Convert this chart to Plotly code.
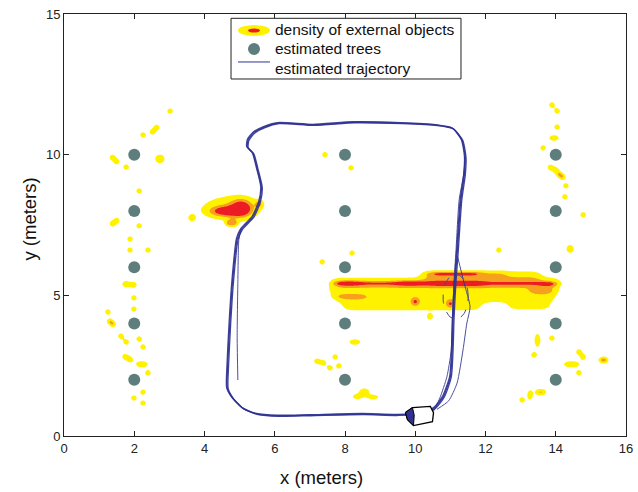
import math
import numpy as np
import plotly.graph_objects as go

# ---------------- data (meters) ----------------
tree_x = [2, 2, 2, 2, 2, 8, 8, 8, 8, 8, 14, 14, 14, 14, 14]
tree_y = [2, 4, 6, 8, 10, 2, 4, 6, 8, 10, 2, 4, 6, 8, 10]

# isolated detections of external objects (small kernel)
spot_x = [3.02, 2.52, 2.64, 2.25, 1.38, 1.50, 1.77, 2.14, 1.38, 1.50, 2.14, 1.88, 1.88, 2.39,
          1.99, 1.99, 1.99, 1.25, 1.30, 1.40, 1.62, 1.77, 2.14, 2.25, 1.74, 1.88, 2.39, 2.25,
          1.99, 2.25,
          7.43, 8.17, 8.20, 7.35, 7.20, 7.38, 7.72, 7.83, 7.57,
          3.64, 4.70, 4.85, 5.55, 12.38, 10.42, 10.00, 11.00,
          13.89, 14.04, 14.04, 13.64, 13.85, 14.00, 14.10, 14.20, 14.29, 14.26, 14.78,
          13.89, 13.38, 14.66, 14.78, 14.66, 15.30, 15.42, 13.50, 13.65, 13.04]
spot_y = [11.55, 10.81, 10.97, 10.70, 9.90, 9.75, 9.56, 8.71, 7.54, 7.66, 7.47, 7.00, 6.61, 6.61,
          5.37, 4.91, 4.51, 4.41, 4.08, 3.97, 3.55, 3.34, 3.45, 3.16, 2.82, 2.72, 2.24, 1.56,
          1.35, 1.17,
          10.00, 9.53, 6.50, 6.19, 2.66, 2.60, 2.81, 2.49, 2.42,
          7.75, 7.57, 7.57, 8.25, 6.61, 4.23, 4.77, 4.70,
          11.77, 11.55, 10.98, 10.24, 9.55, 9.45, 9.30, 9.20, 8.89, 8.50, 7.86,
          3.48, 2.88, 2.99, 2.81, 2.24, 2.70, 2.70, 1.56, 1.56, 1.28]

# compact clusters of detections: centre, spread (x, y) and weight
clu_x = [2.73, 1.77, 2.22, 8.28, 8.35, 8.55, 8.80, 13.95, 14.41, 13.48, 14.45, 13.27,
         4.78, 4.62, 5.05]
clu_y = [9.85, 5.40, 2.55, 3.34, 1.40, 1.58, 1.38, 10.59, 6.65, 3.40, 2.55, 1.46,
         8.10, 7.99, 8.10]
clu_sx = [0.12, 0.10, 0.15, 0.14, 0.12, 0.12, 0.15, 0.12, 0.09, 0.08, 0.20, 0.07,
          0.75, 0.30, 0.20]
clu_sy = [0.14, 0.10, 0.10, 0.09, 0.08, 0.10, 0.08, 0.09, 0.12, 0.22, 0.10, 0.15,
          0.40, 0.12, 0.20]
clu_w = [1.8, 1.8, 1.8, 1.8, 1.7, 1.8, 1.6, 1.8, 1.9, 1.7, 1.8, 1.8,
         1.7, 3.0, 3.2]

# horizontal streaks of detections along the row of foliage:
# x-extent, row, spread and weight
stk_x0 = [10.20, 7.55, 7.50, 7.70, 7.90, 12.60,
          7.70, 7.80, 7.80, 9.50, 10.40, 13.60,
          10.20, 10.50, 7.60, 13.30]
stk_x1 = [13.60, 14.20, 14.10, 14.00, 11.90, 13.90,
          13.95, 13.95, 8.40, 10.20, 11.95, 13.95,
          12.60, 11.80, 8.60, 13.95]
stk_y = [5.72, 5.48, 5.18, 4.88, 4.58, 4.58,
         5.42, 5.42, 5.42, 5.42, 5.42, 5.38,
         5.76, 5.76, 4.95, 5.15]
stk_sy = [0.16, 0.16, 0.16, 0.16, 0.16, 0.13,
          0.12, 0.04, 0.06, 0.06, 0.065, 0.06,
          0.09, 0.045, 0.08, 0.10]
stk_w = [1.25, 1.25, 1.25, 1.25, 1.20, 1.05,
         0.70, 1.10, 1.40, 1.40, 1.50, 1.30,
         0.60, 1.60, 0.70, 0.70]

# estimated trajectory: one lap, clockwise from the upper-left bend
loop_x = [5.05, 5.38, 5.57, 5.62, 5.50, 5.38, 5.22, 5.24, 5.40, 5.70, 6.10, 7.10, 8.25, 9.60,
          10.60, 11.07, 11.33, 11.42, 11.40, 11.30, 11.20, 11.13, 11.08, 11.05, 11.00, 10.80,
          10.55, 10.20, 9.50, 8.50, 7.00, 6.10, 5.50, 5.10, 4.80, 4.65, 4.66, 4.72, 4.80,
          4.93, 5.05]
loop_y = [7.35, 7.80, 8.35, 8.85, 9.50, 10.05, 10.27, 10.52, 10.78, 10.98, 11.12, 11.06, 11.15,
          11.12, 11.05, 10.93, 10.52, 9.92, 9.30, 8.40, 6.60, 5.40, 4.20, 3.00, 2.10, 1.40,
          1.00, 0.82, 0.75, 0.78, 0.74, 0.72, 0.78, 0.98, 1.35, 1.70, 2.50, 4.00, 5.50,
          7.00, 7.35]
lap_dx = [0.00, 0.025, -0.02]
lap_dy = [0.00, -0.02, 0.02]

start_x = [4.95, 4.93, 4.95, 4.98, 5.05]
start_y = [1.99, 3.50, 5.50, 7.00, 7.35]

final_x = [11.42, 11.38, 11.25, 11.16, 11.10, 11.06, 11.02, 10.90, 10.70, 10.52]
final_y = [9.92, 9.30, 8.40, 6.60, 5.40, 4.20, 3.00, 2.10, 1.35, 0.88]

detour_x = [11.20, 11.39, 11.56, 11.47, 11.36, 11.19, 10.95, 10.62]
detour_y = [6.40, 5.44, 4.59, 4.02, 3.06, 1.88, 1.25, 0.95]

# position uncertainty ellipse
ell_cx, ell_cy, ell_rx, ell_ry = 11.15, 4.95, 0.36, 0.80

# final robot pose
robot_x, robot_y = 10.12, 0.69

# ---------------- styles ----------------
YELLOW = "#FFF200"
ORANGE = "#F7A01E"
RED = "#ED1C24"
TREE = "#5E7E7E"
TRAJ = "#2E3192"
FONT = "Arial, Liberation Sans, sans-serif"

# robot body outline (offsets in meters from its centre) and its darker front cap
body_dx = [-0.40, -0.20, 0.31, 0.40, 0.37, -0.17, -0.34, -0.40]
body_dy = [0.14, 0.32, 0.36, 0.14, -0.18, -0.32, -0.11, 0.14]
cap_dx = [-0.40, -0.20, -0.15, -0.17, -0.34, -0.40]
cap_dy = [0.14, 0.32, 0.05, -0.32, -0.11, 0.14]

# ---------------- density field ----------------
gx = np.arange(0.0, 16.0001, 0.04)
gy = np.arange(0.0, 15.0001, 0.04)
GX, GY = np.meshgrid(gx, gy)
Z = np.zeros_like(GX)


def add_kernel(cx, cy, sx, sy, w):
    global Z
    Z += w * np.exp(-0.5 * (((GX - cx) / sx) ** 2 + ((GY - cy) / sy) ** 2))


erf = np.frompyfunc(math.erf, 1, 1)


def add_streak(x0, x1, y, sy, w, soft=0.15):
    global Z
    along = 0.5 * (erf((gx - x0) / (math.sqrt(2) * soft)).astype(float)
                   - erf((gx - x1) / (math.sqrt(2) * soft)).astype(float))
    across = np.exp(-0.5 * ((gy - y) / sy) ** 2)
    Z += w * np.outer(across, along)


for sxp, syp in zip(spot_x, spot_y):
    add_kernel(sxp, syp, 0.075, 0.09, 1.7)
for cx, cy, sx, sy, w in zip(clu_x, clu_y, clu_sx, clu_sy, clu_w):
    add_kernel(cx, cy, sx, sy, w)
for x0, x1, y, sy, w in zip(stk_x0, stk_x1, stk_y, stk_sy, stk_w):
    add_streak(x0, x1, y, sy, w)
Z = np.round(Z, 2)

fig = go.Figure()

fig.add_trace(go.Contour(
    x=gx, y=gy, z=Z,
    autocontour=False,
    contours=dict(start=1, end=3, size=1, coloring="fill", showlines=False),
    colorscale=[[0, "rgba(255,255,255,0)"], [0.15, "rgba(255,255,255,0)"],
                [0.15, YELLOW], [0.5, YELLOW], [0.5, ORANGE], [0.85, ORANGE],
                [0.85, RED], [1, RED]],
    line=dict(width=0),
    showscale=False, hoverinfo="skip",
))

# trajectory laps
for dx, dy in zip(lap_dx, lap_dy):
    fig.add_trace(go.Scatter(
        x=[v + dx for v in loop_x], y=[v + dy for v in loop_y],
        mode="lines", line=dict(color=TRAJ, width=1.3, shape="spline", smoothing=0.6),
        opacity=0.9, showlegend=False, hoverinfo="skip"))

for px_, py_ in ((start_x, start_y), (final_x, final_y), (detour_x, detour_y)):
    fig.add_trace(go.Scatter(
        x=px_, y=py_, mode="lines",
        line=dict(color=TRAJ, width=1.0, shape="spline", smoothing=0.6),
        opacity=0.85, showlegend=False, hoverinfo="skip"))

# uncertainty ellipse
t = np.linspace(0, 2 * np.pi, 60)
fig.add_trace(go.Scatter(
    x=ell_cx + ell_rx * np.cos(t), y=ell_cy + ell_ry * np.sin(t), mode="lines",
    line=dict(color="#4A4E8A", width=1, dash="dash"),
    showlegend=False, hoverinfo="skip"))

# trees
fig.add_trace(go.Scatter(
    x=tree_x, y=tree_y, mode="markers",
    marker=dict(size=12, color=TREE, line=dict(width=0)),
    showlegend=False, hoverinfo="skip"))

# robot
fig.add_trace(go.Scatter(
    x=[robot_x + d for d in body_dx], y=[robot_y + d for d in body_dy],
    mode="lines", fill="toself", fillcolor="white",
    line=dict(color="black", width=1.3), showlegend=False, hoverinfo="skip"))
fig.add_trace(go.Scatter(
    x=[robot_x + d for d in cap_dx], y=[robot_y + d for d in cap_dy],
    mode="lines", fill="toself", fillcolor=TRAJ,
    line=dict(color="black", width=1.0), showlegend=False, hoverinfo="skip"))

# ---------------- hand-drawn legend ----------------
shapes = [
    dict(type="rect", xref="paper", yref="paper", x0=0.2972, x1=0.7064, y0=0.846, y1=0.9898,
         line=dict(color="#222222", width=1), fillcolor="white", layer="above"),
    dict(type="circle", xref="paper", yref="paper", x0=0.3096, x1=0.3665, y0=0.948, y1=0.974,
         line=dict(width=0), fillcolor=YELLOW, layer="above"),
    dict(type="circle", xref="paper", yref="paper", x0=0.3274, x1=0.3488, y0=0.9562, y1=0.9657,
         line=dict(width=0), fillcolor=RED, layer="above"),
    dict(type="circle", xref="paper", yref="paper", x0=0.3274, x1=0.3488, y0=0.9028, y1=0.9313,
         line=dict(width=0), fillcolor=TREE, layer="above"),
    dict(type="line", xref="paper", yref="paper", x0=0.3096, x1=0.3665, y0=0.8863, y1=0.8863,
         line=dict(color=TRAJ, width=1), layer="above"),
]
legend_text = ["density of external objects", "estimated trees", "estimated trajectory"]
legend_y = [0.9621, 0.9171, 0.872]
annotations = [dict(text=s, x=0.3719, y=yy, xref="paper", yref="paper", xanchor="left",
                    yanchor="middle", showarrow=False,
                    font=dict(family=FONT, size=15.5, color="#111"))
               for s, yy in zip(legend_text, legend_y)]
annotations += [
    dict(text="x (meters)", x=0.459, y=-0.0995, xref="paper", yref="paper", xanchor="center",
         yanchor="middle", showarrow=False, font=dict(family=FONT, size=18.5, color="#111")),
    dict(text="y (meters)", x=-0.0614, y=0.514, xref="paper", yref="paper", xanchor="center",
         yanchor="middle", textangle=-90, showarrow=False,
         font=dict(family=FONT, size=18.5, color="#111")),
]

axis_common = dict(showline=True, linecolor="#222222", linewidth=1, mirror="ticks",
                   ticks="inside", ticklen=5, tickcolor="#222222", showgrid=False,
                   zeroline=False, automargin=False,
                   tickfont=dict(family=FONT, size=13, color="#222"))
fig.update_layout(
    width=638, height=492,
    margin=dict(l=64, r=12, t=14, b=56),
    paper_bgcolor="white", plot_bgcolor="white",
    xaxis=dict(range=[0, 16], tickmode="array", tickvals=list(range(0, 17, 2)), **axis_common),
    yaxis=dict(range=[0, 15], tickmode="array", tickvals=[0, 5, 10, 15], **axis_common),
    shapes=shapes, annotations=annotations, showlegend=False,
)

fig.write_html("out.html")
